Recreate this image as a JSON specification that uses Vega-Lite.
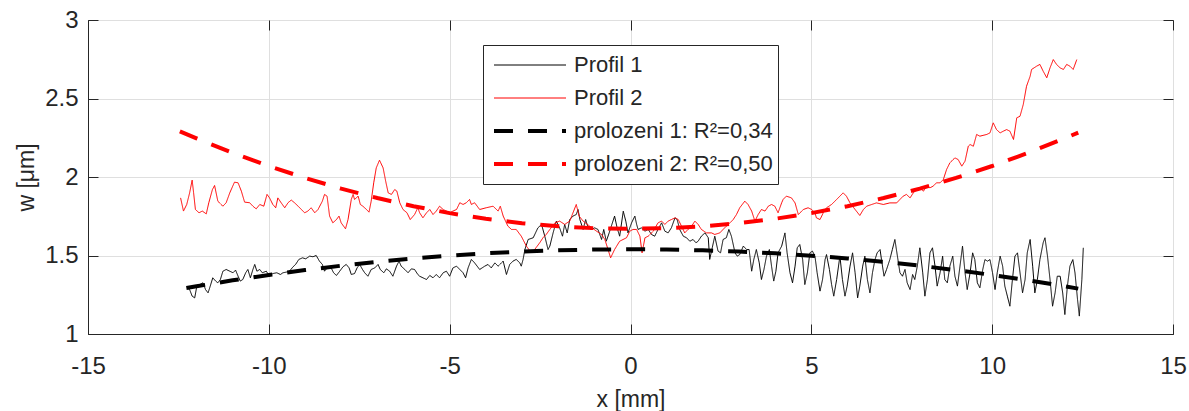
{
  "$schema": "https://vega.github.io/schema/vega-lite/v6.json",
  "width": 1085,
  "height": 314,
  "autosize": {"type": "none"},
  "padding": {"left": 88, "top": 20, "right": 16, "bottom": 77},
  "background": "white",
  "config": {
    "view": {"stroke": "#262626", "strokeWidth": 1},
    "font": "Liberation Sans",
    "axis": {
      "labelFont": "Liberation Sans", "titleFont": "Liberation Sans",
      "labelFontSize": 24, "labelColor": "#262626",
      "titleFontSize": 23, "titleColor": "#262626", "titleFontWeight": "normal",
      "tickColor": "#262626", "domainColor": "#262626", "gridColor": "#dfdfdf",
      "tickSize": -10, "labelFlush": false, "labelOverlap": false
    }
  },
  "resolve": {"axis": {"x": "independent", "y": "independent"}},
  "layer": [
    {
      "data": {"values": [
        {"s":"Profil 1","x":-12.26,"y":1.294},{"s":"Profil 1","x":-12.19,"y":1.283},{"s":"Profil 1","x":-12.12,"y":1.241},{"s":"Profil 1","x":-12.05,"y":1.230},{"s":"Profil 1","x":-11.99,"y":1.305},{"s":"Profil 1","x":-11.91,"y":1.315},{"s":"Profil 1","x":-11.82,"y":1.326},{"s":"Profil 1","x":-11.75,"y":1.283},{"s":"Profil 1","x":-11.68,"y":1.262},{"s":"Profil 1","x":-11.62,"y":1.305},{"s":"Profil 1","x":-11.55,"y":1.358},{"s":"Profil 1","x":-11.47,"y":1.337},{"s":"Profil 1","x":-11.41,"y":1.326},{"s":"Profil 1","x":-11.34,"y":1.347},{"s":"Profil 1","x":-11.27,"y":1.400},{"s":"Profil 1","x":-11.18,"y":1.411},{"s":"Profil 1","x":-11.08,"y":1.400},{"s":"Profil 1","x":-10.99,"y":1.390},{"s":"Profil 1","x":-10.92,"y":1.407},{"s":"Profil 1","x":-10.85,"y":1.368},{"s":"Profil 1","x":-10.79,"y":1.337},{"s":"Profil 1","x":-10.72,"y":1.347},{"s":"Profil 1","x":-10.64,"y":1.390},{"s":"Profil 1","x":-10.58,"y":1.411},{"s":"Profil 1","x":-10.51,"y":1.358},{"s":"Profil 1","x":-10.44,"y":1.411},{"s":"Profil 1","x":-10.39,"y":1.443},{"s":"Profil 1","x":-10.33,"y":1.400},{"s":"Profil 1","x":-10.25,"y":1.411},{"s":"Profil 1","x":-10.18,"y":1.390},{"s":"Profil 1","x":-10.07,"y":1.400},{"s":"Profil 1","x":-9.98,"y":1.368},{"s":"Profil 1","x":-9.89,"y":1.385},{"s":"Profil 1","x":-9.78,"y":1.390},{"s":"Profil 1","x":-9.68,"y":1.379},{"s":"Profil 1","x":-9.61,"y":1.390},{"s":"Profil 1","x":-9.52,"y":1.394},{"s":"Profil 1","x":-9.43,"y":1.400},{"s":"Profil 1","x":-9.33,"y":1.428},{"s":"Profil 1","x":-9.26,"y":1.443},{"s":"Profil 1","x":-9.17,"y":1.475},{"s":"Profil 1","x":-9.07,"y":1.485},{"s":"Profil 1","x":-8.98,"y":1.479},{"s":"Profil 1","x":-8.87,"y":1.496},{"s":"Profil 1","x":-8.78,"y":1.492},{"s":"Profil 1","x":-8.69,"y":1.500},{"s":"Profil 1","x":-8.60,"y":1.464},{"s":"Profil 1","x":-8.52,"y":1.443},{"s":"Profil 1","x":-8.46,"y":1.400},{"s":"Profil 1","x":-8.39,"y":1.421},{"s":"Profil 1","x":-8.30,"y":1.432},{"s":"Profil 1","x":-8.21,"y":1.390},{"s":"Profil 1","x":-8.13,"y":1.373},{"s":"Profil 1","x":-8.04,"y":1.400},{"s":"Profil 1","x":-7.95,"y":1.428},{"s":"Profil 1","x":-7.86,"y":1.443},{"s":"Profil 1","x":-7.78,"y":1.421},{"s":"Profil 1","x":-7.72,"y":1.379},{"s":"Profil 1","x":-7.63,"y":1.385},{"s":"Profil 1","x":-7.56,"y":1.421},{"s":"Profil 1","x":-7.49,"y":1.443},{"s":"Profil 1","x":-7.41,"y":1.411},{"s":"Profil 1","x":-7.35,"y":1.390},{"s":"Profil 1","x":-7.26,"y":1.368},{"s":"Profil 1","x":-7.17,"y":1.411},{"s":"Profil 1","x":-7.07,"y":1.421},{"s":"Profil 1","x":-6.98,"y":1.443},{"s":"Profil 1","x":-6.92,"y":1.411},{"s":"Profil 1","x":-6.82,"y":1.390},{"s":"Profil 1","x":-6.75,"y":1.415},{"s":"Profil 1","x":-6.66,"y":1.400},{"s":"Profil 1","x":-6.57,"y":1.368},{"s":"Profil 1","x":-6.47,"y":1.432},{"s":"Profil 1","x":-6.40,"y":1.464},{"s":"Profil 1","x":-6.34,"y":1.432},{"s":"Profil 1","x":-6.24,"y":1.411},{"s":"Profil 1","x":-6.15,"y":1.390},{"s":"Profil 1","x":-6.06,"y":1.415},{"s":"Profil 1","x":-5.97,"y":1.411},{"s":"Profil 1","x":-5.88,"y":1.379},{"s":"Profil 1","x":-5.83,"y":1.368},{"s":"Profil 1","x":-5.74,"y":1.358},{"s":"Profil 1","x":-5.64,"y":1.347},{"s":"Profil 1","x":-5.55,"y":1.373},{"s":"Profil 1","x":-5.46,"y":1.358},{"s":"Profil 1","x":-5.37,"y":1.379},{"s":"Profil 1","x":-5.28,"y":1.358},{"s":"Profil 1","x":-5.18,"y":1.390},{"s":"Profil 1","x":-5.09,"y":1.400},{"s":"Profil 1","x":-5.00,"y":1.368},{"s":"Profil 1","x":-4.91,"y":1.421},{"s":"Profil 1","x":-4.81,"y":1.432},{"s":"Profil 1","x":-4.72,"y":1.411},{"s":"Profil 1","x":-4.63,"y":1.390},{"s":"Profil 1","x":-4.56,"y":1.358},{"s":"Profil 1","x":-4.49,"y":1.421},{"s":"Profil 1","x":-4.40,"y":1.475},{"s":"Profil 1","x":-4.31,"y":1.453},{"s":"Profil 1","x":-4.17,"y":1.411},{"s":"Profil 1","x":-4.03,"y":1.432},{"s":"Profil 1","x":-3.94,"y":1.443},{"s":"Profil 1","x":-3.85,"y":1.421},{"s":"Profil 1","x":-3.75,"y":1.453},{"s":"Profil 1","x":-3.66,"y":1.432},{"s":"Profil 1","x":-3.52,"y":1.464},{"s":"Profil 1","x":-3.43,"y":1.379},{"s":"Profil 1","x":-3.34,"y":1.443},{"s":"Profil 1","x":-3.25,"y":1.464},{"s":"Profil 1","x":-3.16,"y":1.475},{"s":"Profil 1","x":-3.06,"y":1.453},{"s":"Profil 1","x":-3.02,"y":1.432},{"s":"Profil 1","x":-2.97,"y":1.475},{"s":"Profil 1","x":-2.92,"y":1.538},{"s":"Profil 1","x":-2.83,"y":1.602},{"s":"Profil 1","x":-2.69,"y":1.613},{"s":"Profil 1","x":-2.56,"y":1.676},{"s":"Profil 1","x":-2.46,"y":1.698},{"s":"Profil 1","x":-2.37,"y":1.623},{"s":"Profil 1","x":-2.28,"y":1.538},{"s":"Profil 1","x":-2.23,"y":1.560},{"s":"Profil 1","x":-2.14,"y":1.644},{"s":"Profil 1","x":-2.05,"y":1.719},{"s":"Profil 1","x":-1.96,"y":1.676},{"s":"Profil 1","x":-1.88,"y":1.623},{"s":"Profil 1","x":-1.82,"y":1.698},{"s":"Profil 1","x":-1.75,"y":1.644},{"s":"Profil 1","x":-1.68,"y":1.729},{"s":"Profil 1","x":-1.59,"y":1.751},{"s":"Profil 1","x":-1.50,"y":1.761},{"s":"Profil 1","x":-1.45,"y":1.793},{"s":"Profil 1","x":-1.40,"y":1.729},{"s":"Profil 1","x":-1.31,"y":1.666},{"s":"Profil 1","x":-1.24,"y":1.729},{"s":"Profil 1","x":-1.17,"y":1.676},{"s":"Profil 1","x":-1.08,"y":1.666},{"s":"Profil 1","x":-0.99,"y":1.676},{"s":"Profil 1","x":-0.90,"y":1.666},{"s":"Profil 1","x":-0.80,"y":1.602},{"s":"Profil 1","x":-0.74,"y":1.666},{"s":"Profil 1","x":-0.67,"y":1.591},{"s":"Profil 1","x":-0.59,"y":1.644},{"s":"Profil 1","x":-0.53,"y":1.687},{"s":"Profil 1","x":-0.44,"y":1.751},{"s":"Profil 1","x":-0.37,"y":1.676},{"s":"Profil 1","x":-0.30,"y":1.623},{"s":"Profil 1","x":-0.20,"y":1.782},{"s":"Profil 1","x":-0.13,"y":1.719},{"s":"Profil 1","x":-0.07,"y":1.644},{"s":"Profil 1","x":0.03,"y":1.708},{"s":"Profil 1","x":0.12,"y":1.751},{"s":"Profil 1","x":0.17,"y":1.698},{"s":"Profil 1","x":0.21,"y":1.666},{"s":"Profil 1","x":0.30,"y":1.676},{"s":"Profil 1","x":0.40,"y":1.655},{"s":"Profil 1","x":0.49,"y":1.666},{"s":"Profil 1","x":0.58,"y":1.634},{"s":"Profil 1","x":0.67,"y":1.623},{"s":"Profil 1","x":0.76,"y":1.666},{"s":"Profil 1","x":0.86,"y":1.708},{"s":"Profil 1","x":0.95,"y":1.655},{"s":"Profil 1","x":1.04,"y":1.644},{"s":"Profil 1","x":1.13,"y":1.676},{"s":"Profil 1","x":1.23,"y":1.740},{"s":"Profil 1","x":1.29,"y":1.729},{"s":"Profil 1","x":1.36,"y":1.666},{"s":"Profil 1","x":1.46,"y":1.623},{"s":"Profil 1","x":1.55,"y":1.613},{"s":"Profil 1","x":1.64,"y":1.591},{"s":"Profil 1","x":1.73,"y":1.602},{"s":"Profil 1","x":1.81,"y":1.581},{"s":"Profil 1","x":1.87,"y":1.591},{"s":"Profil 1","x":1.96,"y":1.623},{"s":"Profil 1","x":2.06,"y":1.644},{"s":"Profil 1","x":2.15,"y":1.613},{"s":"Profil 1","x":2.19,"y":1.475},{"s":"Profil 1","x":2.26,"y":1.549},{"s":"Profil 1","x":2.33,"y":1.623},{"s":"Profil 1","x":2.42,"y":1.528},{"s":"Profil 1","x":2.49,"y":1.517},{"s":"Profil 1","x":2.56,"y":1.602},{"s":"Profil 1","x":2.65,"y":1.613},{"s":"Profil 1","x":2.72,"y":1.666},{"s":"Profil 1","x":2.79,"y":1.623},{"s":"Profil 1","x":2.89,"y":1.517},{"s":"Profil 1","x":2.95,"y":1.496},{"s":"Profil 1","x":3.02,"y":1.506},{"s":"Profil 1","x":3.12,"y":1.560},{"s":"Profil 1","x":3.21,"y":1.538},{"s":"Profil 1","x":3.28,"y":1.538},{"s":"Profil 1","x":3.35,"y":1.400},{"s":"Profil 1","x":3.41,"y":1.475},{"s":"Profil 1","x":3.48,"y":1.538},{"s":"Profil 1","x":3.56,"y":1.453},{"s":"Profil 1","x":3.62,"y":1.347},{"s":"Profil 1","x":3.69,"y":1.411},{"s":"Profil 1","x":3.76,"y":1.496},{"s":"Profil 1","x":3.84,"y":1.538},{"s":"Profil 1","x":3.90,"y":1.432},{"s":"Profil 1","x":3.96,"y":1.337},{"s":"Profil 1","x":4.02,"y":1.400},{"s":"Profil 1","x":4.08,"y":1.517},{"s":"Profil 1","x":4.18,"y":1.560},{"s":"Profil 1","x":4.27,"y":1.644},{"s":"Profil 1","x":4.33,"y":1.517},{"s":"Profil 1","x":4.41,"y":1.390},{"s":"Profil 1","x":4.48,"y":1.326},{"s":"Profil 1","x":4.55,"y":1.432},{"s":"Profil 1","x":4.61,"y":1.549},{"s":"Profil 1","x":4.68,"y":1.570},{"s":"Profil 1","x":4.76,"y":1.474},{"s":"Profil 1","x":4.82,"y":1.315},{"s":"Profil 1","x":4.89,"y":1.390},{"s":"Profil 1","x":4.96,"y":1.517},{"s":"Profil 1","x":5.03,"y":1.528},{"s":"Profil 1","x":5.10,"y":1.496},{"s":"Profil 1","x":5.16,"y":1.390},{"s":"Profil 1","x":5.24,"y":1.273},{"s":"Profil 1","x":5.31,"y":1.347},{"s":"Profil 1","x":5.38,"y":1.474},{"s":"Profil 1","x":5.42,"y":1.506},{"s":"Profil 1","x":5.50,"y":1.411},{"s":"Profil 1","x":5.56,"y":1.315},{"s":"Profil 1","x":5.62,"y":1.241},{"s":"Profil 1","x":5.70,"y":1.347},{"s":"Profil 1","x":5.79,"y":1.496},{"s":"Profil 1","x":5.86,"y":1.347},{"s":"Profil 1","x":5.93,"y":1.241},{"s":"Profil 1","x":5.99,"y":1.305},{"s":"Profil 1","x":6.07,"y":1.432},{"s":"Profil 1","x":6.14,"y":1.517},{"s":"Profil 1","x":6.21,"y":1.390},{"s":"Profil 1","x":6.28,"y":1.230},{"s":"Profil 1","x":6.34,"y":1.305},{"s":"Profil 1","x":6.42,"y":1.432},{"s":"Profil 1","x":6.48,"y":1.496},{"s":"Profil 1","x":6.55,"y":1.347},{"s":"Profil 1","x":6.62,"y":1.262},{"s":"Profil 1","x":6.69,"y":1.390},{"s":"Profil 1","x":6.76,"y":1.474},{"s":"Profil 1","x":6.82,"y":1.517},{"s":"Profil 1","x":6.90,"y":1.538},{"s":"Profil 1","x":6.94,"y":1.474},{"s":"Profil 1","x":7.01,"y":1.368},{"s":"Profil 1","x":7.08,"y":1.411},{"s":"Profil 1","x":7.17,"y":1.474},{"s":"Profil 1","x":7.24,"y":1.538},{"s":"Profil 1","x":7.31,"y":1.602},{"s":"Profil 1","x":7.38,"y":1.496},{"s":"Profil 1","x":7.45,"y":1.390},{"s":"Profil 1","x":7.52,"y":1.368},{"s":"Profil 1","x":7.59,"y":1.411},{"s":"Profil 1","x":7.65,"y":1.326},{"s":"Profil 1","x":7.73,"y":1.283},{"s":"Profil 1","x":7.80,"y":1.379},{"s":"Profil 1","x":7.86,"y":1.347},{"s":"Profil 1","x":7.93,"y":1.432},{"s":"Profil 1","x":8.00,"y":1.549},{"s":"Profil 1","x":8.08,"y":1.390},{"s":"Profil 1","x":8.14,"y":1.241},{"s":"Profil 1","x":8.21,"y":1.347},{"s":"Profil 1","x":8.28,"y":1.517},{"s":"Profil 1","x":8.35,"y":1.549},{"s":"Profil 1","x":8.42,"y":1.432},{"s":"Profil 1","x":8.48,"y":1.305},{"s":"Profil 1","x":8.56,"y":1.390},{"s":"Profil 1","x":8.63,"y":1.496},{"s":"Profil 1","x":8.69,"y":1.347},{"s":"Profil 1","x":8.76,"y":1.326},{"s":"Profil 1","x":8.83,"y":1.432},{"s":"Profil 1","x":8.91,"y":1.496},{"s":"Profil 1","x":8.97,"y":1.368},{"s":"Profil 1","x":9.04,"y":1.305},{"s":"Profil 1","x":9.11,"y":1.432},{"s":"Profil 1","x":9.18,"y":1.560},{"s":"Profil 1","x":9.25,"y":1.390},{"s":"Profil 1","x":9.31,"y":1.283},{"s":"Profil 1","x":9.39,"y":1.390},{"s":"Profil 1","x":9.46,"y":1.517},{"s":"Profil 1","x":9.52,"y":1.474},{"s":"Profil 1","x":9.59,"y":1.326},{"s":"Profil 1","x":9.66,"y":1.294},{"s":"Profil 1","x":9.74,"y":1.411},{"s":"Profil 1","x":9.80,"y":1.474},{"s":"Profil 1","x":9.87,"y":1.464},{"s":"Profil 1","x":9.94,"y":1.474},{"s":"Profil 1","x":10.01,"y":1.390},{"s":"Profil 1","x":10.08,"y":1.283},{"s":"Profil 1","x":10.14,"y":1.390},{"s":"Profil 1","x":10.22,"y":1.496},{"s":"Profil 1","x":10.29,"y":1.432},{"s":"Profil 1","x":10.35,"y":1.305},{"s":"Profil 1","x":10.42,"y":1.241},{"s":"Profil 1","x":10.49,"y":1.177},{"s":"Profil 1","x":10.56,"y":1.347},{"s":"Profil 1","x":10.63,"y":1.496},{"s":"Profil 1","x":10.70,"y":1.517},{"s":"Profil 1","x":10.77,"y":1.390},{"s":"Profil 1","x":10.84,"y":1.262},{"s":"Profil 1","x":10.91,"y":1.347},{"s":"Profil 1","x":10.97,"y":1.517},{"s":"Profil 1","x":11.05,"y":1.602},{"s":"Profil 1","x":11.12,"y":1.432},{"s":"Profil 1","x":11.18,"y":1.262},{"s":"Profil 1","x":11.25,"y":1.347},{"s":"Profil 1","x":11.32,"y":1.474},{"s":"Profil 1","x":11.41,"y":1.581},{"s":"Profil 1","x":11.46,"y":1.613},{"s":"Profil 1","x":11.53,"y":1.496},{"s":"Profil 1","x":11.60,"y":1.347},{"s":"Profil 1","x":11.67,"y":1.177},{"s":"Profil 1","x":11.74,"y":1.262},{"s":"Profil 1","x":11.80,"y":1.368},{"s":"Profil 1","x":11.88,"y":1.368},{"s":"Profil 1","x":11.95,"y":1.262},{"s":"Profil 1","x":12.01,"y":1.124},{"s":"Profil 1","x":12.08,"y":1.305},{"s":"Profil 1","x":12.15,"y":1.432},{"s":"Profil 1","x":12.23,"y":1.474},{"s":"Profil 1","x":12.29,"y":1.390},{"s":"Profil 1","x":12.36,"y":1.220},{"s":"Profil 1","x":12.41,"y":1.114},{"s":"Profil 1","x":12.48,"y":1.347},{"s":"Profil 1","x":12.52,"y":1.549},
        {"s":"Profil 2","x":-12.44,"y":1.867},{"s":"Profil 2","x":-12.36,"y":1.783},{"s":"Profil 2","x":-12.27,"y":1.825},{"s":"Profil 2","x":-12.19,"y":1.899},{"s":"Profil 2","x":-12.12,"y":1.980},{"s":"Profil 2","x":-12.08,"y":1.899},{"s":"Profil 2","x":-12.03,"y":1.793},{"s":"Profil 2","x":-11.93,"y":1.772},{"s":"Profil 2","x":-11.84,"y":1.783},{"s":"Profil 2","x":-11.73,"y":1.765},{"s":"Profil 2","x":-11.66,"y":1.836},{"s":"Profil 2","x":-11.56,"y":1.920},{"s":"Profil 2","x":-11.50,"y":1.946},{"s":"Profil 2","x":-11.41,"y":1.846},{"s":"Profil 2","x":-11.27,"y":1.814},{"s":"Profil 2","x":-11.18,"y":1.836},{"s":"Profil 2","x":-11.08,"y":1.899},{"s":"Profil 2","x":-10.95,"y":1.967},{"s":"Profil 2","x":-10.85,"y":1.963},{"s":"Profil 2","x":-10.76,"y":1.910},{"s":"Profil 2","x":-10.67,"y":1.840},{"s":"Profil 2","x":-10.53,"y":1.836},{"s":"Profil 2","x":-10.44,"y":1.814},{"s":"Profil 2","x":-10.35,"y":1.797},{"s":"Profil 2","x":-10.25,"y":1.825},{"s":"Profil 2","x":-10.14,"y":1.814},{"s":"Profil 2","x":-10.05,"y":1.889},{"s":"Profil 2","x":-9.98,"y":1.867},{"s":"Profil 2","x":-9.89,"y":1.825},{"s":"Profil 2","x":-9.81,"y":1.804},{"s":"Profil 2","x":-9.75,"y":1.867},{"s":"Profil 2","x":-9.66,"y":1.836},{"s":"Profil 2","x":-9.56,"y":1.804},{"s":"Profil 2","x":-9.47,"y":1.836},{"s":"Profil 2","x":-9.38,"y":1.853},{"s":"Profil 2","x":-9.29,"y":1.836},{"s":"Profil 2","x":-9.19,"y":1.814},{"s":"Profil 2","x":-9.10,"y":1.793},{"s":"Profil 2","x":-9.01,"y":1.772},{"s":"Profil 2","x":-8.92,"y":1.783},{"s":"Profil 2","x":-8.83,"y":1.804},{"s":"Profil 2","x":-8.73,"y":1.772},{"s":"Profil 2","x":-8.64,"y":1.793},{"s":"Profil 2","x":-8.52,"y":1.846},{"s":"Profil 2","x":-8.46,"y":1.889},{"s":"Profil 2","x":-8.39,"y":1.878},{"s":"Profil 2","x":-8.32,"y":1.751},{"s":"Profil 2","x":-8.23,"y":1.708},{"s":"Profil 2","x":-8.13,"y":1.729},{"s":"Profil 2","x":-8.06,"y":1.751},{"s":"Profil 2","x":-8.00,"y":1.708},{"s":"Profil 2","x":-7.88,"y":1.670},{"s":"Profil 2","x":-7.81,"y":1.729},{"s":"Profil 2","x":-7.72,"y":1.857},{"s":"Profil 2","x":-7.67,"y":1.889},{"s":"Profil 2","x":-7.63,"y":1.857},{"s":"Profil 2","x":-7.53,"y":1.878},{"s":"Profil 2","x":-7.47,"y":1.825},{"s":"Profil 2","x":-7.40,"y":1.814},{"s":"Profil 2","x":-7.30,"y":1.793},{"s":"Profil 2","x":-7.23,"y":1.776},{"s":"Profil 2","x":-7.17,"y":1.846},{"s":"Profil 2","x":-7.10,"y":1.963},{"s":"Profil 2","x":-7.03,"y":2.058},{"s":"Profil 2","x":-6.94,"y":2.107},{"s":"Profil 2","x":-6.84,"y":2.058},{"s":"Profil 2","x":-6.77,"y":1.974},{"s":"Profil 2","x":-6.70,"y":1.899},{"s":"Profil 2","x":-6.61,"y":1.889},{"s":"Profil 2","x":-6.52,"y":1.920},{"s":"Profil 2","x":-6.46,"y":1.910},{"s":"Profil 2","x":-6.38,"y":1.836},{"s":"Profil 2","x":-6.29,"y":1.793},{"s":"Profil 2","x":-6.18,"y":1.772},{"s":"Profil 2","x":-6.09,"y":1.729},{"s":"Profil 2","x":-5.97,"y":1.761},{"s":"Profil 2","x":-5.88,"y":1.804},{"s":"Profil 2","x":-5.83,"y":1.772},{"s":"Profil 2","x":-5.74,"y":1.740},{"s":"Profil 2","x":-5.64,"y":1.772},{"s":"Profil 2","x":-5.55,"y":1.793},{"s":"Profil 2","x":-5.46,"y":1.761},{"s":"Profil 2","x":-5.37,"y":1.783},{"s":"Profil 2","x":-5.28,"y":1.814},{"s":"Profil 2","x":-5.18,"y":1.793},{"s":"Profil 2","x":-5.09,"y":1.783},{"s":"Profil 2","x":-5.00,"y":1.772},{"s":"Profil 2","x":-4.91,"y":1.783},{"s":"Profil 2","x":-4.81,"y":1.793},{"s":"Profil 2","x":-4.72,"y":1.836},{"s":"Profil 2","x":-4.63,"y":1.825},{"s":"Profil 2","x":-4.54,"y":1.836},{"s":"Profil 2","x":-4.45,"y":1.857},{"s":"Profil 2","x":-4.40,"y":1.825},{"s":"Profil 2","x":-4.31,"y":1.836},{"s":"Profil 2","x":-4.17,"y":1.793},{"s":"Profil 2","x":-3.99,"y":1.804},{"s":"Profil 2","x":-3.80,"y":1.814},{"s":"Profil 2","x":-3.66,"y":1.783},{"s":"Profil 2","x":-3.60,"y":1.814},{"s":"Profil 2","x":-3.52,"y":1.751},{"s":"Profil 2","x":-3.39,"y":1.687},{"s":"Profil 2","x":-3.29,"y":1.666},{"s":"Profil 2","x":-3.16,"y":1.666},{"s":"Profil 2","x":-3.02,"y":1.623},{"s":"Profil 2","x":-2.88,"y":1.560},{"s":"Profil 2","x":-2.74,"y":1.517},{"s":"Profil 2","x":-2.65,"y":1.538},{"s":"Profil 2","x":-2.51,"y":1.581},{"s":"Profil 2","x":-2.42,"y":1.613},{"s":"Profil 2","x":-2.33,"y":1.634},{"s":"Profil 2","x":-2.23,"y":1.666},{"s":"Profil 2","x":-2.09,"y":1.708},{"s":"Profil 2","x":-1.96,"y":1.719},{"s":"Profil 2","x":-1.82,"y":1.698},{"s":"Profil 2","x":-1.68,"y":1.719},{"s":"Profil 2","x":-1.59,"y":1.772},{"s":"Profil 2","x":-1.50,"y":1.825},{"s":"Profil 2","x":-1.42,"y":1.751},{"s":"Profil 2","x":-1.31,"y":1.719},{"s":"Profil 2","x":-1.13,"y":1.687},{"s":"Profil 2","x":-0.94,"y":1.655},{"s":"Profil 2","x":-0.80,"y":1.634},{"s":"Profil 2","x":-0.71,"y":1.602},{"s":"Profil 2","x":-0.62,"y":1.538},{"s":"Profil 2","x":-0.55,"y":1.485},{"s":"Profil 2","x":-0.44,"y":1.538},{"s":"Profil 2","x":-0.30,"y":1.591},{"s":"Profil 2","x":-0.11,"y":1.613},{"s":"Profil 2","x":-0.02,"y":1.655},{"s":"Profil 2","x":0.07,"y":1.666},{"s":"Profil 2","x":0.17,"y":1.666},{"s":"Profil 2","x":0.26,"y":1.623},{"s":"Profil 2","x":0.32,"y":1.517},{"s":"Profil 2","x":0.40,"y":1.613},{"s":"Profil 2","x":0.49,"y":1.623},{"s":"Profil 2","x":0.63,"y":1.655},{"s":"Profil 2","x":0.76,"y":1.708},{"s":"Profil 2","x":0.86,"y":1.719},{"s":"Profil 2","x":0.95,"y":1.698},{"s":"Profil 2","x":1.04,"y":1.719},{"s":"Profil 2","x":1.13,"y":1.729},{"s":"Profil 2","x":1.23,"y":1.740},{"s":"Profil 2","x":1.32,"y":1.729},{"s":"Profil 2","x":1.41,"y":1.687},{"s":"Profil 2","x":1.50,"y":1.644},{"s":"Profil 2","x":1.59,"y":1.666},{"s":"Profil 2","x":1.69,"y":1.687},{"s":"Profil 2","x":1.78,"y":1.719},{"s":"Profil 2","x":1.87,"y":1.698},{"s":"Profil 2","x":1.96,"y":1.666},{"s":"Profil 2","x":2.10,"y":1.644},{"s":"Profil 2","x":2.24,"y":1.644},{"s":"Profil 2","x":2.33,"y":1.634},{"s":"Profil 2","x":2.47,"y":1.644},{"s":"Profil 2","x":2.56,"y":1.666},{"s":"Profil 2","x":2.65,"y":1.687},{"s":"Profil 2","x":2.75,"y":1.708},{"s":"Profil 2","x":2.84,"y":1.729},{"s":"Profil 2","x":2.93,"y":1.761},{"s":"Profil 2","x":3.02,"y":1.804},{"s":"Profil 2","x":3.16,"y":1.846},{"s":"Profil 2","x":3.25,"y":1.825},{"s":"Profil 2","x":3.35,"y":1.783},{"s":"Profil 2","x":3.44,"y":1.719},{"s":"Profil 2","x":3.53,"y":1.761},{"s":"Profil 2","x":3.62,"y":1.793},{"s":"Profil 2","x":3.72,"y":1.783},{"s":"Profil 2","x":3.81,"y":1.814},{"s":"Profil 2","x":3.90,"y":1.825},{"s":"Profil 2","x":3.99,"y":1.814},{"s":"Profil 2","x":4.08,"y":1.772},{"s":"Profil 2","x":4.18,"y":1.836},{"s":"Profil 2","x":4.22,"y":1.857},{"s":"Profil 2","x":4.31,"y":1.878},{"s":"Profil 2","x":4.45,"y":1.867},{"s":"Profil 2","x":4.55,"y":1.835},{"s":"Profil 2","x":4.64,"y":1.761},{"s":"Profil 2","x":4.78,"y":1.793},{"s":"Profil 2","x":4.91,"y":1.804},{"s":"Profil 2","x":5.01,"y":1.793},{"s":"Profil 2","x":5.10,"y":1.772},{"s":"Profil 2","x":5.14,"y":1.740},{"s":"Profil 2","x":5.24,"y":1.729},{"s":"Profil 2","x":5.33,"y":1.772},{"s":"Profil 2","x":5.42,"y":1.804},{"s":"Profil 2","x":5.56,"y":1.825},{"s":"Profil 2","x":5.70,"y":1.857},{"s":"Profil 2","x":5.79,"y":1.878},{"s":"Profil 2","x":5.88,"y":1.899},{"s":"Profil 2","x":5.97,"y":1.878},{"s":"Profil 2","x":6.07,"y":1.835},{"s":"Profil 2","x":6.21,"y":1.793},{"s":"Profil 2","x":6.34,"y":1.755},{"s":"Profil 2","x":6.44,"y":1.793},{"s":"Profil 2","x":6.53,"y":1.814},{"s":"Profil 2","x":6.67,"y":1.825},{"s":"Profil 2","x":6.80,"y":1.835},{"s":"Profil 2","x":6.99,"y":1.825},{"s":"Profil 2","x":7.17,"y":1.835},{"s":"Profil 2","x":7.36,"y":1.835},{"s":"Profil 2","x":7.45,"y":1.857},{"s":"Profil 2","x":7.54,"y":1.878},{"s":"Profil 2","x":7.63,"y":1.889},{"s":"Profil 2","x":7.73,"y":1.867},{"s":"Profil 2","x":7.82,"y":1.899},{"s":"Profil 2","x":7.91,"y":1.920},{"s":"Profil 2","x":8.00,"y":1.931},{"s":"Profil 2","x":8.10,"y":1.910},{"s":"Profil 2","x":8.19,"y":1.942},{"s":"Profil 2","x":8.28,"y":1.931},{"s":"Profil 2","x":8.37,"y":1.942},{"s":"Profil 2","x":8.46,"y":1.963},{"s":"Profil 2","x":8.56,"y":1.963},{"s":"Profil 2","x":8.65,"y":1.984},{"s":"Profil 2","x":8.74,"y":2.048},{"s":"Profil 2","x":8.83,"y":2.090},{"s":"Profil 2","x":8.97,"y":2.122},{"s":"Profil 2","x":9.06,"y":2.111},{"s":"Profil 2","x":9.16,"y":2.069},{"s":"Profil 2","x":9.25,"y":2.101},{"s":"Profil 2","x":9.34,"y":2.196},{"s":"Profil 2","x":9.39,"y":2.207},{"s":"Profil 2","x":9.48,"y":2.196},{"s":"Profil 2","x":9.57,"y":2.271},{"s":"Profil 2","x":9.66,"y":2.260},{"s":"Profil 2","x":9.85,"y":2.271},{"s":"Profil 2","x":9.94,"y":2.281},{"s":"Profil 2","x":10.03,"y":2.345},{"s":"Profil 2","x":10.12,"y":2.302},{"s":"Profil 2","x":10.22,"y":2.281},{"s":"Profil 2","x":10.31,"y":2.292},{"s":"Profil 2","x":10.40,"y":2.302},{"s":"Profil 2","x":10.49,"y":2.292},{"s":"Profil 2","x":10.59,"y":2.239},{"s":"Profil 2","x":10.68,"y":2.377},{"s":"Profil 2","x":10.77,"y":2.387},{"s":"Profil 2","x":10.86,"y":2.462},{"s":"Profil 2","x":10.95,"y":2.578},{"s":"Profil 2","x":11.05,"y":2.642},{"s":"Profil 2","x":11.09,"y":2.685},{"s":"Profil 2","x":11.23,"y":2.706},{"s":"Profil 2","x":11.32,"y":2.717},{"s":"Profil 2","x":11.41,"y":2.674},{"s":"Profil 2","x":11.51,"y":2.632},{"s":"Profil 2","x":11.60,"y":2.695},{"s":"Profil 2","x":11.69,"y":2.748},{"s":"Profil 2","x":11.78,"y":2.717},{"s":"Profil 2","x":11.88,"y":2.695},{"s":"Profil 2","x":11.97,"y":2.685},{"s":"Profil 2","x":12.06,"y":2.717},{"s":"Profil 2","x":12.15,"y":2.706},{"s":"Profil 2","x":12.24,"y":2.685},{"s":"Profil 2","x":12.34,"y":2.748},
        {"s":"prolozeni 1: R²=0,34","x":-12.28,"y":1.293},{"s":"prolozeni 1: R²=0,34","x":-12,"y":1.304},{"s":"prolozeni 1: R²=0,34","x":-11,"y":1.342},{"s":"prolozeni 1: R²=0,34","x":-10,"y":1.376},{"s":"prolozeni 1: R²=0,34","x":-9,"y":1.407},{"s":"prolozeni 1: R²=0,34","x":-8,"y":1.435},{"s":"prolozeni 1: R²=0,34","x":-7,"y":1.460},{"s":"prolozeni 1: R²=0,34","x":-6,"y":1.481},{"s":"prolozeni 1: R²=0,34","x":-5,"y":1.499},{"s":"prolozeni 1: R²=0,34","x":-4,"y":1.514},{"s":"prolozeni 1: R²=0,34","x":-3,"y":1.525},{"s":"prolozeni 1: R²=0,34","x":-2,"y":1.533},{"s":"prolozeni 1: R²=0,34","x":-1,"y":1.538},{"s":"prolozeni 1: R²=0,34","x":0,"y":1.540},{"s":"prolozeni 1: R²=0,34","x":1,"y":1.538},{"s":"prolozeni 1: R²=0,34","x":2,"y":1.533},{"s":"prolozeni 1: R²=0,34","x":3,"y":1.525},{"s":"prolozeni 1: R²=0,34","x":4,"y":1.514},{"s":"prolozeni 1: R²=0,34","x":5,"y":1.499},{"s":"prolozeni 1: R²=0,34","x":6,"y":1.481},{"s":"prolozeni 1: R²=0,34","x":7,"y":1.460},{"s":"prolozeni 1: R²=0,34","x":8,"y":1.435},{"s":"prolozeni 1: R²=0,34","x":9,"y":1.407},{"s":"prolozeni 1: R²=0,34","x":10,"y":1.376},{"s":"prolozeni 1: R²=0,34","x":11,"y":1.342},{"s":"prolozeni 1: R²=0,34","x":12,"y":1.304},{"s":"prolozeni 1: R²=0,34","x":12.38,"y":1.289},
        {"s":"prolozeni 2: R²=0,50","x":-12.46,"y":2.291},{"s":"prolozeni 2: R²=0,50","x":-12,"y":2.246},{"s":"prolozeni 2: R²=0,50","x":-11,"y":2.154},{"s":"prolozeni 2: R²=0,50","x":-10,"y":2.070},{"s":"prolozeni 2: R²=0,50","x":-9,"y":1.994},{"s":"prolozeni 2: R²=0,50","x":-8,"y":1.926},{"s":"prolozeni 2: R²=0,50","x":-7,"y":1.866},{"s":"prolozeni 2: R²=0,50","x":-6,"y":1.814},{"s":"prolozeni 2: R²=0,50","x":-5,"y":1.770},{"s":"prolozeni 2: R²=0,50","x":-4,"y":1.734},{"s":"prolozeni 2: R²=0,50","x":-3,"y":1.706},{"s":"prolozeni 2: R²=0,50","x":-2,"y":1.686},{"s":"prolozeni 2: R²=0,50","x":-1,"y":1.674},{"s":"prolozeni 2: R²=0,50","x":0,"y":1.670},{"s":"prolozeni 2: R²=0,50","x":1,"y":1.674},{"s":"prolozeni 2: R²=0,50","x":2,"y":1.686},{"s":"prolozeni 2: R²=0,50","x":3,"y":1.706},{"s":"prolozeni 2: R²=0,50","x":4,"y":1.734},{"s":"prolozeni 2: R²=0,50","x":5,"y":1.770},{"s":"prolozeni 2: R²=0,50","x":6,"y":1.814},{"s":"prolozeni 2: R²=0,50","x":7,"y":1.866},{"s":"prolozeni 2: R²=0,50","x":8,"y":1.926},{"s":"prolozeni 2: R²=0,50","x":9,"y":1.994},{"s":"prolozeni 2: R²=0,50","x":10,"y":2.070},{"s":"prolozeni 2: R²=0,50","x":11,"y":2.154},{"s":"prolozeni 2: R²=0,50","x":12,"y":2.246},{"s":"prolozeni 2: R²=0,50","x":12.38,"y":2.283}
      ]},
      "mark": {"type": "line", "clip": true},
      "encoding": {
        "x": {"field": "x", "type": "quantitative",
          "scale": {"domain": [-15, 15], "nice": false, "zero": false},
          "axis": {"orient": "bottom", "values": [-15, -10, -5, 0, 5, 10, 15], "labelExpr": "'' + datum.value",
            "title": "x [mm]", "grid": true, "labelPadding": 30, "titlePadding": 10}},
        "y": {"field": "y", "type": "quantitative",
          "scale": {"domain": [1, 3], "nice": false, "zero": false},
          "axis": {"orient": "left", "values": [1, 1.5, 2, 2.5, 3], "labelExpr": "'' + datum.value",
            "title": "w [μm]", "grid": true, "labelPadding": 20, "titlePadding": 6}},
        "color": {"field": "s", "type": "nominal",
          "scale": {"domain": ["Profil 1", "Profil 2", "prolozeni 1: R²=0,34", "prolozeni 2: R²=0,50"], "range": ["#000000", "#ff0000", "#000000", "#ff0000"]},
          "legend": {"title": null, "orient": "none", "legendX": 395, "legendY": 25, "symbolType": "stroke", "symbolSize": 5184,
            "labelFontSize": 22, "labelFont": "Liberation Sans", "labelColor": "#262626", "labelLimit": 400, "strokeColor": "#262626", "fillColor": "white",
            "padding": 5, "clipHeight": 30, "rowPadding": 3, "symbolOffset": 4, "labelOffset": 6}},
        "strokeDash": {"field": "s", "type": "nominal",
          "scale": {"domain": ["Profil 1", "Profil 2", "prolozeni 1: R²=0,34", "prolozeni 2: R²=0,50"], "range": [[1, 0], [1, 0], [19, 15], [19, 15]]},
          "legend": {"title": null, "orient": "none", "legendX": 395, "legendY": 25, "symbolType": "stroke", "symbolSize": 5184,
            "labelFontSize": 22, "labelFont": "Liberation Sans", "labelColor": "#262626", "labelLimit": 400, "strokeColor": "#262626", "fillColor": "white",
            "padding": 5, "clipHeight": 30, "rowPadding": 3, "symbolOffset": 4, "labelOffset": 6}},
        "strokeWidth": {"field": "s", "type": "nominal",
          "scale": {"type": "ordinal", "domain": ["Profil 1", "Profil 2", "prolozeni 1: R²=0,34", "prolozeni 2: R²=0,50"], "range": [1, 1, 4, 4]},
          "legend": {"title": null, "orient": "none", "legendX": 395, "legendY": 25, "symbolType": "stroke", "symbolSize": 5184,
            "labelFontSize": 22, "labelFont": "Liberation Sans", "labelColor": "#262626", "labelLimit": 400, "strokeColor": "#262626", "fillColor": "white",
            "padding": 5, "clipHeight": 30, "rowPadding": 3, "symbolOffset": 4, "labelOffset": 6}}
      }
    },
    {
      "data": {"values": []},
      "mark": {"type": "point", "opacity": 0},
      "encoding": {
        "x": {"field": "x", "type": "quantitative",
          "scale": {"domain": [-15, 15], "nice": false, "zero": false},
          "axis": {"orient": "top", "values": [-15, -10, -5, 0, 5, 10, 15], "labels": false, "grid": false, "domain": false, "title": null}},
        "y": {"field": "y", "type": "quantitative",
          "scale": {"domain": [1, 3], "nice": false, "zero": false},
          "axis": {"orient": "right", "values": [1, 1.5, 2, 2.5, 3], "labels": false, "grid": false, "domain": false, "title": null}}
      }
    }
  ]
}
